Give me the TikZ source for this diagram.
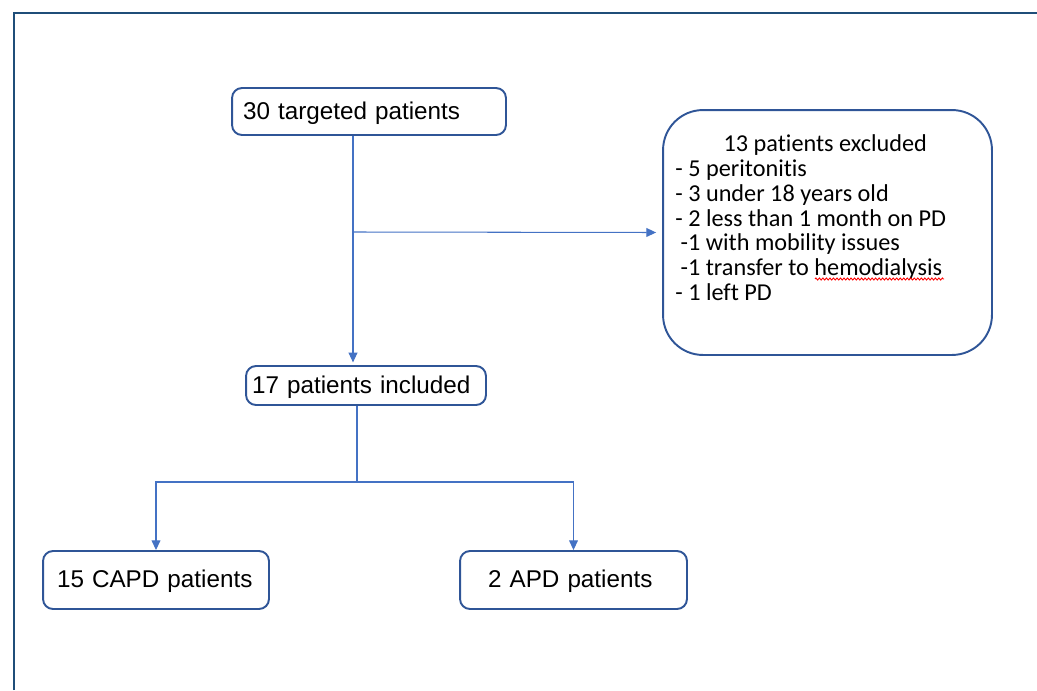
\documentclass[tikz,border=0pt]{standalone}
\usepackage{fontspec}
\setmainfont{Liberation Sans}
\newfontfamily\calibri[Ligatures=NoCommon]{Carlito}
\usetikzlibrary{arrows.meta,decorations.pathmorphing}

\newcommand{\px}{0.569pt}
\definecolor{boxblue}{RGB}{47,85,151}
\definecolor{lineblue}{RGB}{68,114,196}
\definecolor{frameblue}{RGB}{31,78,121}

\begin{document}
\begin{tikzpicture}[x=0.02cm, y=-0.02cm, >={Triangle[length=5.5pt,width=5pt]},
	flowbox/.style 2 args={draw=boxblue, line width=1.1pt, rounded corners=10*\px,
		text width={(#1-2*#2)*\px}, inner xsep=#2*\px, align=left,
		text height=11.9pt, text depth=2.9pt,
		font=\fontsize{13.8pt}{16pt}\selectfont},
	line/.style={draw=lineblue, line width=0.6pt}]

	\useasboundingbox (0,0) rectangle (1037,690);
	\draw[frameblue, line width=1.7pt] (14,690) -- (14,13) -- (1037,13);

	% === NODES === (((
	\node[flowbox={274}{11}, minimum height=47*\px] (target) at (369,111.5) {30 targeted patients};
	\node[flowbox={240}{6}, minimum height=39*\px] (incl) at (366,385.5) {17 patients included};

	\node[flowbox={226}{14}, minimum height=58*\px] (capd) at (156,580) {15 CAPD patients};
	\node[flowbox={227}{28}, minimum height=58*\px] (apd) at (573.5,580) {2 APD patients};

	\node[draw=boxblue, line width=1.1pt, rounded corners=40*\px, inner sep=0pt,
		minimum width=329*\px, minimum height=245*\px] (excl) at (827.5,232.5) {};
	\node[anchor=north west, inner sep=0pt, align=left,
		font=\calibri\fontsize{13.8pt}{14.2pt}\selectfont] (exclText) at (675,134) {%
		\makebox[170.7pt]{13 patients excluded}\\
		- 5 peritonitis\\
		- 3 under 18 years old\\
		- 2 less than 1 month on PD\\
		\hspace*{3pt}-1 with mobility issues\\
		\hspace*{3pt}-1 transfer to hemodialysis\\
		- 1 left PD};
	\draw[red, line width=0.5pt, decorate,
		decoration={zigzag, amplitude=0.6pt, segment length=2pt}] (815,279) -- (944,279);

	\coordinate (split) at (353,232);
	\coordinate (fork) at (357,482);
	% )))

	% === LINES === (((
	\draw[line,->, shorten >=1.5pt] (target.south -| split) -- (incl.north -| split);
	\draw[line,->, shorten >=6*\px] (split) -- (excl.west);

	\draw[line] (incl.south -| fork) -- (fork);
	\draw[line,->] (fork) -| (capd.north);
	\draw[line,->] (fork) -| (apd.north);
	% )))

\end{tikzpicture}
\end{document}
